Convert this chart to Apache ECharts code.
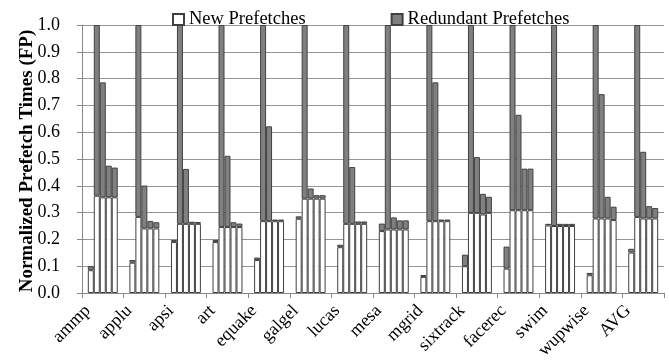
<!DOCTYPE html>
<html>
<head>
<meta charset="utf-8">
<script src="https://cdn.jsdelivr.net/npm/echarts@6/dist/echarts.min.js"></script>
<style>
  html, body { margin: 0; padding: 0; background: #fff; }
  #chart { width: 669px; height: 360px; }
</style>
</head>
<body>
<div id="chart"></div>
<script>
// Benchmarks on the x axis
const categories = ['ammp', 'applu', 'apsi', 'art', 'equake', 'galgel', 'lucas',
  'mesa', 'mgrid', 'sixtrack', 'facerec', 'swim', 'wupwise', 'AVG'];

// Five configurations per benchmark: new prefetches (white part) ...
const newBar1 = [0.085, 0.113, 0.190, 0.190, 0.123, 0.277, 0.171, 0.231, 0.060, 0.100, 0.091, 0.252, 0.066, 0.151];
const newBar2 = [0.363, 0.284, 0.258, 0.246, 0.268, 0.352, 0.258, 0.237, 0.268, 0.299, 0.309, 0.250, 0.278, 0.284];
const newBar3 = [0.357, 0.241, 0.258, 0.246, 0.268, 0.352, 0.258, 0.237, 0.268, 0.299, 0.309, 0.250, 0.278, 0.278];
const newBar4 = [0.357, 0.241, 0.258, 0.246, 0.268, 0.352, 0.258, 0.237, 0.268, 0.293, 0.309, 0.250, 0.278, 0.278];
const newBar5 = [0.357, 0.241, 0.258, 0.246, 0.268, 0.352, 0.258, 0.237, 0.268, 0.299, 0.309, 0.250, 0.272, 0.278];

// ... and total prefetches (top of each stacked bar)
const totalBar1 = [0.100, 0.123, 0.198, 0.198, 0.132, 0.286, 0.180, 0.259, 0.067, 0.143, 0.173, 0.258, 0.075, 0.165];
const totalBar2 = [1.0, 1.0, 1.0, 1.0, 1.0, 1.0, 1.0, 1.0, 1.0, 1.0, 1.0, 1.0, 1.0, 1.0];
const totalBar3 = [0.786, 0.401, 0.463, 0.512, 0.622, 0.390, 0.470, 0.282, 0.786, 0.507, 0.665, 0.258, 0.742, 0.527];
const totalBar4 = [0.475, 0.269, 0.266, 0.264, 0.274, 0.365, 0.267, 0.271, 0.274, 0.370, 0.464, 0.258, 0.359, 0.324];
const totalBar5 = [0.468, 0.264, 0.265, 0.259, 0.274, 0.365, 0.267, 0.271, 0.274, 0.359, 0.464, 0.258, 0.322, 0.317];

const yTicks = ['0.0', '0.1', '0.2', '0.3', '0.4', '0.5', '0.6', '0.7', '0.8', '0.9', '1.0'];

const NEW_NAME = 'New Prefetches';
const RED_NAME = 'Redundant Prefetches';
const Y_TITLE = 'Normalized Prefetch Times (FP)';
const FONT = '"Liberation Serif", "Times New Roman", serif';

const newBars = [newBar1, newBar2, newBar3, newBar4, newBar5];
const totalBars = [totalBar1, totalBar2, totalBar3, totalBar4, totalBar5];

const series = [];
newBars.forEach((nb, i) => {
  const stack = 'cfg' + (i + 1);
  series.push({
    name: NEW_NAME,
    type: 'bar',
    stack: stack,
    barGap: '0%',
    barCategoryGap: '28%',
    itemStyle: { color: '#ffffff', borderColor: '#404040', borderWidth: 1 },
    emphasis: { disabled: true },
    data: nb
  });
  series.push({
    name: RED_NAME,
    type: 'bar',
    stack: stack,
    barGap: '0%',
    barCategoryGap: '28%',
    itemStyle: { color: '#808080', borderColor: '#404040', borderWidth: 1 },
    emphasis: { disabled: true },
    data: totalBars[i].map((t, k) => +(t - nb[k]).toFixed(3))
  });
});

const chart = echarts.init(document.getElementById('chart'), null, { renderer: 'canvas' });
chart.setOption({
  animation: false,
  backgroundColor: '#ffffff',
  textStyle: { fontFamily: FONT, color: '#000' },
  legend: {
    data: [NEW_NAME, RED_NAME],
    left: 167,
    top: 5,
    itemWidth: 11,
    itemHeight: 11,
    itemGap: 85,
    icon: 'rect',
    textStyle: { fontFamily: FONT, fontSize: 18.5, color: '#000' }
  },
  grid: { left: 82, right: 5, top: 25, bottom: 67, containLabel: false },
  xAxis: {
    type: 'category',
    data: categories,
    axisLine: { lineStyle: { color: '#888888', width: 1 } },
    axisTick: { show: true, length: 5, interval: 0, lineStyle: { color: '#888888' } },
    // category names are drawn below as rotated text elements
    axisLabel: { show: false },
    splitLine: { show: false }
  },
  yAxis: {
    type: 'value',
    min: 0,
    max: 1,
    interval: 0.1,
    axisLine: { show: true, lineStyle: { color: '#888888', width: 1 } },
    axisTick: { show: true, length: 5, inside: false, lineStyle: { color: '#888888' } },
    axisLabel: {
      margin: 22,
      fontFamily: FONT,
      fontSize: 18,
      color: '#000',
      formatter: (v) => yTicks[Math.round(v * 10)]
    },
    splitLine: { show: true, lineStyle: { color: '#959595', width: 1 } }
  },
  series: series
});

// Rotated category names and the vertical axis title
const axisY = chart.convertToPixel({ yAxisIndex: 0 }, 0);
const midY = (chart.convertToPixel({ yAxisIndex: 0 }, 1) + axisY) / 2;
const graphics = categories.map((name) => ({
  type: 'text',
  x: chart.convertToPixel({ xAxisIndex: 0 }, name) - 15,
  y: axisY + 15,
  rotation: Math.PI / 4,
  silent: true,
  style: {
    text: name,
    fontFamily: FONT,
    fontSize: 18,
    fill: '#000',
    align: 'right',
    verticalAlign: 'middle'
  }
}));
graphics.push({
  type: 'text',
  x: 27.5,
  y: midY + 2,
  rotation: Math.PI / 2,
  silent: true,
  style: {
    text: Y_TITLE,
    fontFamily: FONT,
    fontSize: 19,
    fontWeight: 'bold',
    fill: '#000',
    align: 'center',
    verticalAlign: 'middle'
  }
});
chart.setOption({ graphic: graphics });
</script>
</body>
</html>
